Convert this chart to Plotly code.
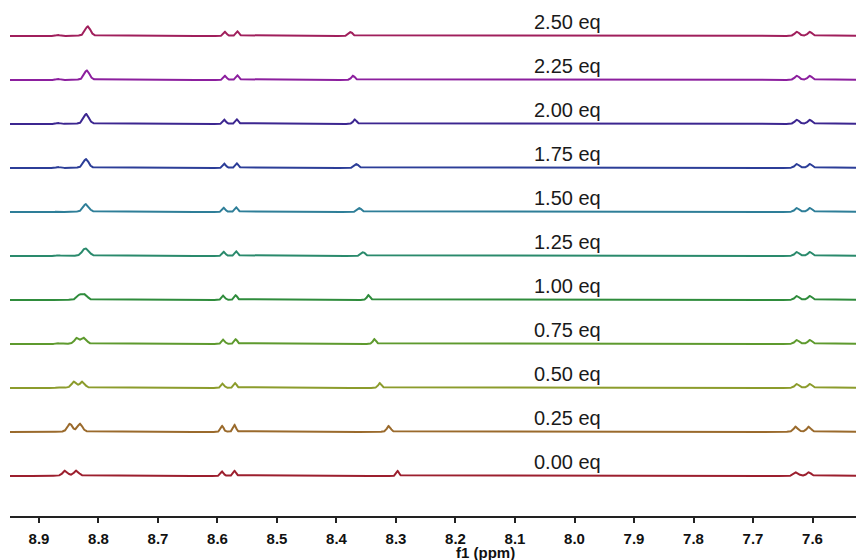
import numpy as np
import plotly.graph_objects as go

# Titration series: equivalents of guest added
equivalents = [0.00, 0.25, 0.50, 0.75, 1.00, 1.25, 1.50, 1.75, 2.00, 2.25, 2.50]
labels = [f"{e:.2f} eq" for e in equivalents]
colors = ["#9c1f2e", "#9a6a2c", "#8c9c2c", "#5e9a2e", "#2f8c3c", "#2a8a6c",
          "#2e7e98", "#2c3e98", "#3c2690", "#8c1f9e", "#a01f5c"]

# Signal A: doublet near 8.85 ppm collapsing to a singlet (positions in ppm, per-line height)
a_left = [8.856, 8.848, 8.841, 8.836, 8.8315, 8.8245, 8.823, 8.8225, 8.822, 8.821, 8.8195]
a_right = [8.837, 8.831, 8.827, 8.824, 8.8225, 8.8185, 8.819, 8.8195, 8.819, 8.818, 8.8165]
a_height = [5.3, 8.0, 6.1, 5.9, 5.0, 5.0, 4.6, 4.8, 5.4, 5.2, 5.2]

# Signal B: doublet near 8.58 ppm
b_left = [8.592, 8.592, 8.591, 8.590, 8.590, 8.589, 8.589, 8.588, 8.588, 8.587, 8.587]
b_right = [8.571, 8.571, 8.570, 8.569, 8.569, 8.568, 8.568, 8.567, 8.567, 8.566, 8.566]
b_height_left = [4.5, 6.0, 4.5, 4.5, 4.5, 4.3, 4.3, 4.3, 4.3, 4.3, 4.3]
b_height_right = [5.2, 7.0, 4.8, 4.8, 4.8, 4.6, 4.6, 4.6, 4.6, 4.6, 4.6]

# Signal C: singlet drifting downfield with added guest
c_pos = [8.297, 8.312, 8.327, 8.336, 8.346, 8.355, 8.361, 8.366, 8.369, 8.372, 8.376]
c_height = [5.0, 6.0, 5.0, 5.0, 5.0, 3.8, 4.0, 4.0, 4.5, 4.3, 4.0]
c_hwhm = [2.6, 3.8, 3.3, 3.1, 3.1, 3.8, 3.8, 3.8, 3.4, 3.5, 3.5]  # in 0.001 ppm

# Signal D: doublet near 7.62 ppm
d_left = [7.627, 7.628, 7.626, 7.626, 7.626, 7.626, 7.626, 7.626, 7.626, 7.626, 7.626]
d_right = [7.606, 7.606, 7.604, 7.604, 7.604, 7.604, 7.604, 7.604, 7.604, 7.604, 7.604]
d_height = [3.7, 5.3, 4.0, 4.0, 4.0, 4.0, 4.0, 4.0, 4.2, 4.2, 4.2]

# Minor signal at 8.868 ppm
e_height = [0.0, 0.0, 0.6, 0.6, 0.8, 0.8, 0.9, 0.9, 1.0, 1.0, 1.0]

STACK_STEP = 44.0
ETA = 0.45  # Lorentzian fraction of the pseudo-Voigt line shape
ppm = np.arange(7.50, 8.97, 0.0002)


def line(x0, h, hwhm_mppm):
    g = hwhm_mppm / 1000.0
    lor = g * g / ((ppm - x0) ** 2 + g * g)
    gau = np.exp(-np.log(2) * ((ppm - x0) / g) ** 2)
    return h * (ETA * lor + (1 - ETA) * gau)


fig = go.Figure()
for i, lab in enumerate(labels):
    y = (line(a_left[i], a_height[i], 4.8) + line(a_right[i], a_height[i], 4.8)
         + line(b_left[i], b_height_left[i], 2.8) + line(b_right[i], b_height_right[i], 2.8)
         + line(c_pos[i], c_height[i], c_hwhm[i])
         + line(d_left[i], d_height[i], 4.3) + line(d_right[i], d_height[i], 4.3)
         + line(8.868, e_height[i], 3.5))
    offset = i * STACK_STEP
    fig.add_trace(go.Scatter(x=ppm, y=y + offset, mode="lines",
                             line=dict(color=colors[i], width=2),
                             name=lab, showlegend=False, hoverinfo="skip"))
    fig.add_annotation(x=8.011, y=offset + 14.5, text=lab, showarrow=False,
                       xanchor="center", yanchor="middle",
                       font=dict(family="Liberation Sans, Arial", size=20, color="#1a1a1a"))

fig.add_annotation(x=8.149, y=-0.07, xref="x", yref="paper", text="f1 (ppm)",
                   showarrow=False, xanchor="center", yanchor="middle",
                   font=dict(family="Liberation Sans, Arial", size=15, color="#111",
                             weight="bold"))

fig.update_layout(
    width=856, height=560,
    margin=dict(l=10, r=0, t=0, b=44),
    paper_bgcolor="white", plot_bgcolor="white",
    xaxis=dict(range=[8.9487, 7.5269], showgrid=False, zeroline=False,
               showline=True, linecolor="#222", linewidth=1.5,
               ticks="outside", ticklen=5, tickwidth=1.5, tickcolor="#222",
               tick0=7.6, dtick=0.1, tickformat=".1f", ticklabelstandoff=3,
               tickfont=dict(family="Liberation Sans, Arial", size=15, color="#111",
                             weight="bold")),
    yaxis=dict(range=[-40, 476], visible=False, showgrid=False, zeroline=False),
)

fig.write_html("out.html")
